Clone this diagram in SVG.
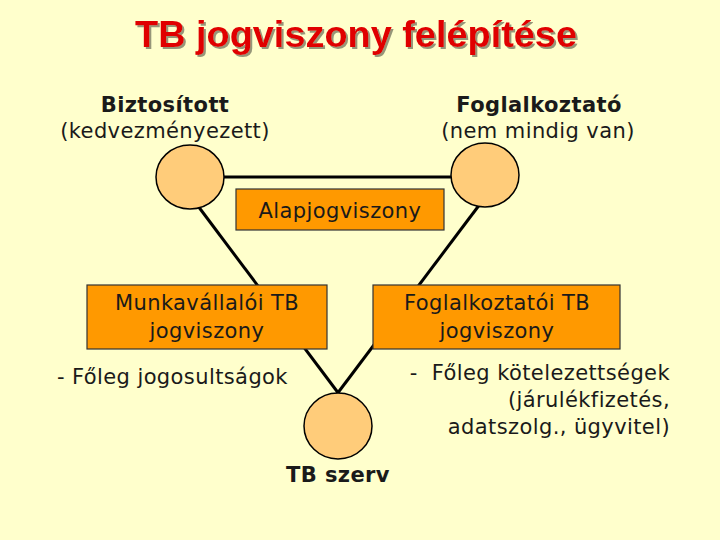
<svg xmlns="http://www.w3.org/2000/svg" width="720" height="540" viewBox="0 0 720 540">
<defs>
<filter id="sh" x="-5%" y="-20%" width="110%" height="150%">
<feDropShadow dx="2" dy="2" stdDeviation="0.6" flood-color="#8a8a70" flood-opacity="0.9"/>
</filter>
</defs>
<style>
.t{font-family:"DejaVu Sans",Verdana,sans-serif;font-size:21px;letter-spacing:0.4px;fill:#1a1a1a}
.b{font-weight:bold}
.c{fill:#FFCC7A;stroke:#000;stroke-width:1.5}
.box{fill:#FF9900;stroke:#333;stroke-width:1.2}
.ln{stroke:#000;stroke-width:3;fill:none}
</style>
<rect x="0" y="0" width="720" height="540" fill="#FFFFCC"/>
<g id="title">
<text x="356" y="47" text-anchor="middle" font-family="'Liberation Sans',Arial,sans-serif" font-weight="bold" font-size="36" textLength="442" lengthAdjust="spacingAndGlyphs" fill="#E00000" filter="url(#sh)">TB jogviszony felépítése</text>
</g>
<g id="connectors">
<line class="ln" x1="224" y1="177" x2="451" y2="177"/>
<line class="ln" x1="198" y1="206" x2="339" y2="394"/>
<line class="ln" x1="480" y1="204" x2="337" y2="394"/>
</g>
<g id="biztositott">
<ellipse class="c" cx="190" cy="177" rx="34" ry="32"/>
<text class="t b" x="165" y="112" text-anchor="middle">Biztosított</text>
<text class="t" x="165" y="138" text-anchor="middle">(kedvezményezett)</text>
</g>
<g id="foglalkoztato">
<ellipse class="c" cx="485" cy="175" rx="34" ry="32" stroke-width="3"/>
<text class="t b" x="539" y="112" text-anchor="middle">Foglalkoztató</text>
<text class="t" x="538" y="138" text-anchor="middle">(nem mindig van)</text>
</g>
<g id="tbszerv">
<ellipse class="c" cx="338" cy="426" rx="34" ry="33" stroke-width="2"/>
<text class="t b" x="338" y="482" text-anchor="middle">TB szerv</text>
</g>
<g id="alapjogviszony">
<rect class="box" x="236" y="189" width="208" height="41"/>
<text class="t" x="340" y="218" text-anchor="middle">Alapjogviszony</text>
</g>
<g id="munkavallaloi">
<rect class="box" x="87" y="285" width="240" height="64"/>
<text class="t" x="207" y="310" text-anchor="middle">Munkavállalói TB</text>
<text class="t" x="207" y="338" text-anchor="middle">jogviszony</text>
<text class="t" x="57" y="384">- Főleg jogosultságok</text>
</g>
<g id="foglalkoztatoi">
<rect class="box" x="373" y="285" width="247" height="64"/>
<text class="t" x="497" y="310" text-anchor="middle">Foglalkoztatói TB</text>
<text class="t" x="497" y="338" text-anchor="middle">jogviszony</text>
<text class="t" x="670" y="380" text-anchor="end" xml:space="preserve">-  Főleg kötelezettségek</text>
<text class="t" x="670" y="407" text-anchor="end">(járulékfizetés,</text>
<text class="t" x="670" y="434" text-anchor="end">adatszolg., ügyvitel)</text>
</g>
</svg>
